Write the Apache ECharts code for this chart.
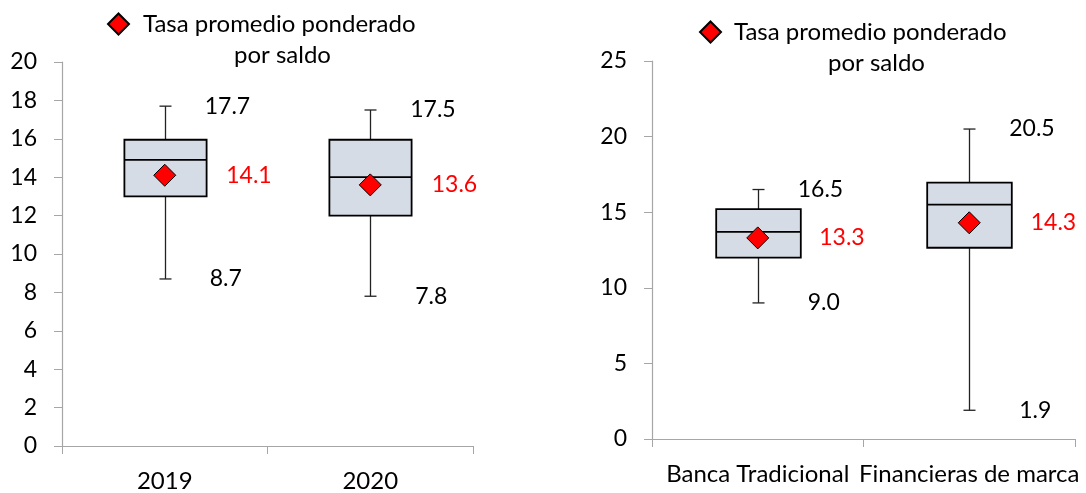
<!DOCTYPE html>
<html>
<head>
  <meta charset="UTF-8">
  <title>Tasa promedio ponderado por saldo</title>
  <script src="https://cdn.jsdelivr.net/npm/echarts@6/dist/echarts.min.js"></script>
  <style>
    html, body { margin: 0; padding: 0; background: #fff; }
    #main { width: 1086px; height: 493px; }
  </style>
</head>
<body>
  <div id="main"></div>
  <script type="text/javascript">
    // panel izquierdo
    var cats1 = ['2019', '2020'];
    var min1 = [8.7, 7.8];
    var q1_1 = [13.0, 12.0];
    var med1 = [14.9, 14.0];
    var q3_1 = [15.95, 15.95];
    var max1 = [17.7, 17.5];
    var mean1 = [14.1, 13.6];
    var yTicks1 = { min: 0, max: 20, interval: 2 };

    // panel derecho
    var cats2 = ['Banca Tradicional', 'Financieras de marca'];
    var min2 = [9.0, 1.9];
    var q1_2 = [12.0, 12.65];
    var med2 = [13.7, 15.5];
    var q3_2 = [15.2, 16.95];
    var max2 = [16.5, 20.5];
    var mean2 = [13.3, 14.3];
    var yTicks2 = { min: 0, max: 25, interval: 5 };

    var legendName = 'Tasa promedio ponderado';
    var font = 'Lato';
    var txt = 24;   // textos
    var num = 23;   // cifras

    function boxData(mins, q1s, meds, q3s, maxs) {
      return mins.map(function (v, i) { return [i, v, q1s[i], meds[i], q3s[i], maxs[i]]; });
    }
    function pts(vals) {
      return vals.map(function (v, i) { return [i, v]; });
    }

    function renderBox(params, api) {
      var x = api.value(0);
      var pMin = api.coord([x, api.value(1)]);
      var pQ1 = api.coord([x, api.value(2)]);
      var pMed = api.coord([x, api.value(3)]);
      var pQ3 = api.coord([x, api.value(4)]);
      var pMax = api.coord([x, api.value(5)]);
      var half = api.size([1, 0])[0] * 0.2;
      var cap = 6;
      var whisker = { stroke: '#222', lineWidth: 1.3 };
      var cx = Math.round(pMin[0]) + 0.5;
      return {
        type: 'group',
        children: [
          { type: 'line', shape: { x1: cx, y1: pMin[1], x2: cx, y2: pMax[1] }, style: whisker },
          { type: 'line', shape: { x1: cx - cap, y1: pMin[1], x2: cx + cap, y2: pMin[1] }, style: whisker },
          { type: 'line', shape: { x1: cx - cap, y1: pMax[1], x2: cx + cap, y2: pMax[1] }, style: whisker },
          { type: 'rect', shape: { x: cx - half, y: pQ3[1], width: half * 2, height: pQ1[1] - pQ3[1] },
            style: { fill: '#d6dce5', stroke: '#000', lineWidth: 1.8 } },
          { type: 'line', shape: { x1: cx - half, y1: pMed[1], x2: cx + half, y2: pMed[1] },
            style: { stroke: '#000', lineWidth: 1.8 } }
        ]
      };
    }

    function labelSeries(idx, vals, dist, color) {
      return {
        type: 'scatter', xAxisIndex: idx, yAxisIndex: idx, silent: true,
        symbolSize: 0, data: pts(vals), z: 5, itemStyle: { opacity: 1 },
        label: {
          show: true, position: 'right', distance: dist, color: color,
          fontFamily: font, fontSize: num,
          formatter: function (p) { return p.value[1].toFixed(1); }
        }
      };
    }

    function xAxisCfg(idx, cats) {
      return {
        type: 'category', gridIndex: idx, data: cats,
        axisLine: { lineStyle: { color: '#a6a6a6', width: 1.2 } },
        axisTick: { show: true, length: 8, lineStyle: { color: '#a6a6a6' } },
        axisLabel: { interval: 0, color: '#000', fontFamily: font, fontSize: txt, margin: 23 }
      };
    }
    function yAxisCfg(idx, t) {
      return {
        type: 'value', gridIndex: idx, min: t.min, max: t.max, interval: t.interval,
        axisLine: { show: true, lineStyle: { color: '#a6a6a6', width: 1.2 } },
        axisTick: { show: true, length: 8, lineStyle: { color: '#a6a6a6' } },
        splitLine: { show: false },
        axisLabel: { color: '#000', fontFamily: font, fontSize: num, margin: 25 }
      };
    }

    var meanStyle = { color: '#ff0000', borderColor: '#000', borderWidth: 1, opacity: 1 };

    var myChart = echarts.init(document.getElementById('main'));
    var option = {
      animation: false,
      textStyle: { fontFamily: font },
      grid: [
        { left: 62, top: 62, width: 411, bottom: 44 },
        { left: 652, top: 61, width: 423, bottom: 54 }
      ],
      legend: [
        { data: [legendName], left: 107, top: 12, padding: 0, icon: 'diamond', itemWidth: 21, itemHeight: 21,
          textStyle: { fontSize: txt, color: '#000', padding: [0, 0, 0, 9] } },
        { data: [legendName], left: 699, top: 20, padding: 0, icon: 'diamond', itemWidth: 21, itemHeight: 21,
          textStyle: { fontSize: txt, color: '#000', padding: [0, 0, 0, 8] } }
      ],
      title: [
        { text: 'por saldo', left: 234, top: 43, padding: 0,
          textStyle: { fontSize: txt, fontWeight: 'normal', color: '#000', fontFamily: font } },
        { text: 'por saldo', left: 828, top: 51, padding: 0,
          textStyle: { fontSize: txt, fontWeight: 'normal', color: '#000', fontFamily: font } }
      ],
      xAxis: [xAxisCfg(0, cats1), xAxisCfg(1, cats2)],
      yAxis: [yAxisCfg(0, yTicks1), yAxisCfg(1, yTicks2)],
      series: [
        { type: 'custom', xAxisIndex: 0, yAxisIndex: 0, renderItem: renderBox, silent: true,
          encode: { x: 0, y: [1, 2, 3, 4, 5] }, data: boxData(min1, q1_1, med1, q3_1, max1) },
        { type: 'custom', xAxisIndex: 1, yAxisIndex: 1, renderItem: renderBox, silent: true,
          encode: { x: 0, y: [1, 2, 3, 4, 5] }, data: boxData(min2, q1_2, med2, q3_2, max2) },
        { name: legendName, type: 'scatter', xAxisIndex: 0, yAxisIndex: 0, symbol: 'diamond',
          symbolSize: 22, itemStyle: meanStyle, z: 4, data: pts(mean1),
          label: { show: true, position: 'right', distance: 50, color: '#ff0000', fontSize: num, fontFamily: font,
            formatter: function (p) { return p.value[1].toFixed(1); } } },
        { name: legendName, type: 'scatter', xAxisIndex: 1, yAxisIndex: 1, symbol: 'diamond',
          symbolSize: 22, itemStyle: meanStyle, z: 4, data: pts(mean2),
          label: { show: true, position: 'right', distance: 50, color: '#ff0000', fontSize: num, fontFamily: font,
            formatter: function (p) { return p.value[1].toFixed(1); } } },
        labelSeries(0, max1, 40, '#000'),
        labelSeries(0, min1, 45, '#000'),
        labelSeries(1, max2, 40, '#000'),
        labelSeries(1, min2, 50, '#000')
      ]
    };
    myChart.setOption(option);
  </script>
</body>
</html>
